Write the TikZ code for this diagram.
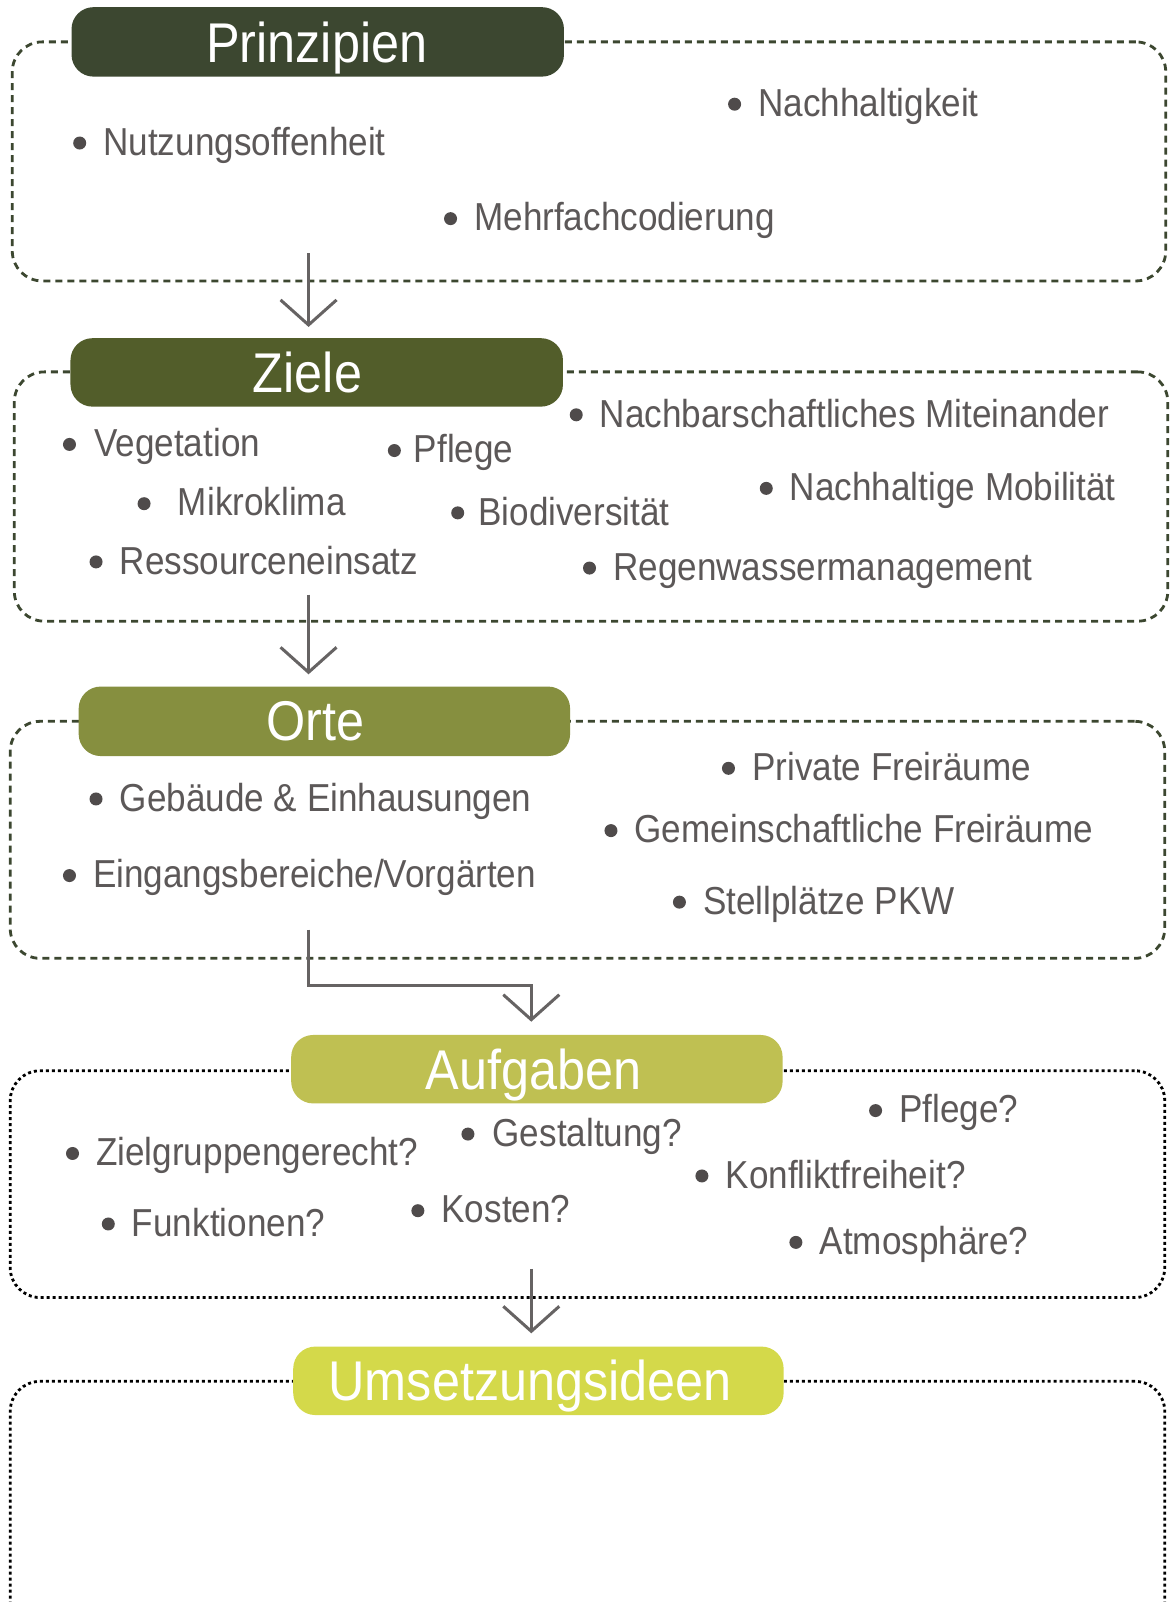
\documentclass[tikz,border=0pt]{standalone}
\usepackage{fontspec}
\setmainfont[FakeStretch=0.9]{Liberation Sans}
\newfontfamily\titlefont[FakeStretch=0.9]{Liberation Sans}
\usetikzlibrary{arrows.meta,fit}
\definecolor{cPrin}{HTML}{3C4730}
\definecolor{cZiel}{HTML}{525D2A}
\definecolor{cOrte}{HTML}{868F3F}
\definecolor{cAufg}{HTML}{BFC052}
\definecolor{cUms}{HTML}{D4D94A}
\definecolor{framegreen}{HTML}{3C4730}
\definecolor{textgray}{HTML}{5C5858}
\definecolor{dotgray}{HTML}{4F4B4B}
\definecolor{arrowgray}{HTML}{666363}
\newcommand\bitem[5]{%
  \node[dot] (#1-b) at (#2,#4) {};
  \node[itemtext] (#1) at (#3,#4+12) {#5};}
\begin{document}
\begin{tikzpicture}[x=1.0218pt,y=-1.0218pt,
  frameA/.style={draw=framegreen, line width=2.8pt, dash pattern=on 7pt off 5pt, rounded corners=30pt, inner sep=0pt},
  frameB/.style={draw=black, line width=2.8pt, dash pattern=on 3pt off 3pt, rounded corners=30pt, inner sep=0pt},
  pill/.style={rounded corners=22pt, inner sep=0pt, text=white, font=\titlefont\fontsize{56}{56}\selectfont},
  dot/.style={circle, fill=dotgray, inner sep=0pt, minimum size=13pt},
  itemtext/.style={anchor=base west, inner sep=0pt, text=textgray, font=\fontsize{39}{39}\selectfont},
  flow/.style={draw=arrowgray, line width=3pt, -{Straight Barb[length=25pt,width=56pt,line width=3pt]}}]
\useasboundingbox (0,0) rectangle (1148,1568);
\fill[white] (0,0) rectangle (1148,1568);

% frames
\node[frameA, fit={(12,41) (1141,275)}] (f1) {};
\node[frameA, fit={(14,364) (1143,608)}] (f2) {};
\node[frameA, fit={(10,706) (1140,938)}] (f3) {};
\node[frameB, fit={(10,1048) (1140,1270)}] (f4) {};
\node[frameB, fit={(10,1352) (1140,1598)}] (f5) {};

% titles
\node[pill, fill=cPrin, fit={(70,7) (552,75)}] (t1) {};
\node[pill, fill=cZiel, fit={(69,331) (551,398)}] (t2) {};
\node[pill, fill=cOrte, fit={(77,672) (558,740)}] (t3) {};
\node[pill, fill=cAufg, fit={(285,1013) (766,1080)}] (t4) {};
\node[pill, fill=cUms, fit={(287,1318) (767,1385)}] (t5) {};
\node[pill, anchor=base] (t1t) at (310,61) {Prinzipien};
\node[pill, anchor=base] (t2t) at (301,384) {Ziele};
\node[pill, anchor=base] (t3t) at (309,725) {Orte};
\node[pill, anchor=base] (t4t) at (522,1066) {Aufgaben};
\node[pill, anchor=base] (t5t) at (519,1371) {Umsetzungsideen};

% Prinzipien
\bitem{p1}{78}{101}{140}{Nutzungsoffenheit}
\bitem{p2}{719}{742}{102}{Nachhaltigkeit}
\bitem{p3}{441}{464}{214}{Mehrfachcodierung}

% Ziele
\bitem{z1}{68}{92}{435}{Vegetation}
\bitem{z2}{386}{405}{441}{Pflege}
\bitem{z3}{564}{587}{406}{Nachbarschaftliches Miteinander}
\bitem{z4}{141}{174}{493}{Mikroklima}
\bitem{z5}{448}{468}{502}{Biodiversität}
\bitem{z6}{750}{773}{478}{Nachhaltige Mobilität}
\bitem{z7}{94}{117}{550}{Ressourceneinsatz}
\bitem{z8}{577}{600}{556}{Regenwassermanagement}

% Orte
\bitem{o1}{94}{117}{782}{Gebäude \& Einhausungen}
\bitem{o2}{68}{91}{857}{Eingangsbereiche/Vorgärten}
\bitem{o3}{713}{736}{752}{Private Freiräume}
\bitem{o4}{598}{621}{813}{Gemeinschaftliche Freiräume}
\bitem{o5}{665}{688}{883}{Stellplätze PKW}

% Aufgaben
\bitem{a1}{857}{880}{1087}{Pflege?}
\bitem{a2}{71}{94}{1129}{Zielgruppengerecht?}
\bitem{a3}{458}{482}{1110}{Gestaltung?}
\bitem{a4}{687}{710}{1151}{Konfliktfreiheit?}
\bitem{a5}{106}{129}{1198}{Funktionen?}
\bitem{a6}{409}{432}{1185}{Kosten?}
\bitem{a7}{779}{802}{1216}{Atmosphäre?}

% arrows
\coordinate (r1s) at (302,248);
\coordinate (r1e) at (302,320);
\coordinate (r2s) at (302,582);
\coordinate (r2e) at (302,660);
\coordinate (r3s) at (302,910);
\coordinate (r3e) at (520,1000);
\coordinate (r4s) at (520,1242);
\coordinate (r4e) at (520,1305);
\draw[flow] (r1s) -- (r1e);
\draw[flow] (r2s) -- (r2e);
\draw[flow] (r3s) |- (411,965) -| (r3e);
\draw[flow] (r4s) -- (r4e);
\end{tikzpicture}
\end{document}
